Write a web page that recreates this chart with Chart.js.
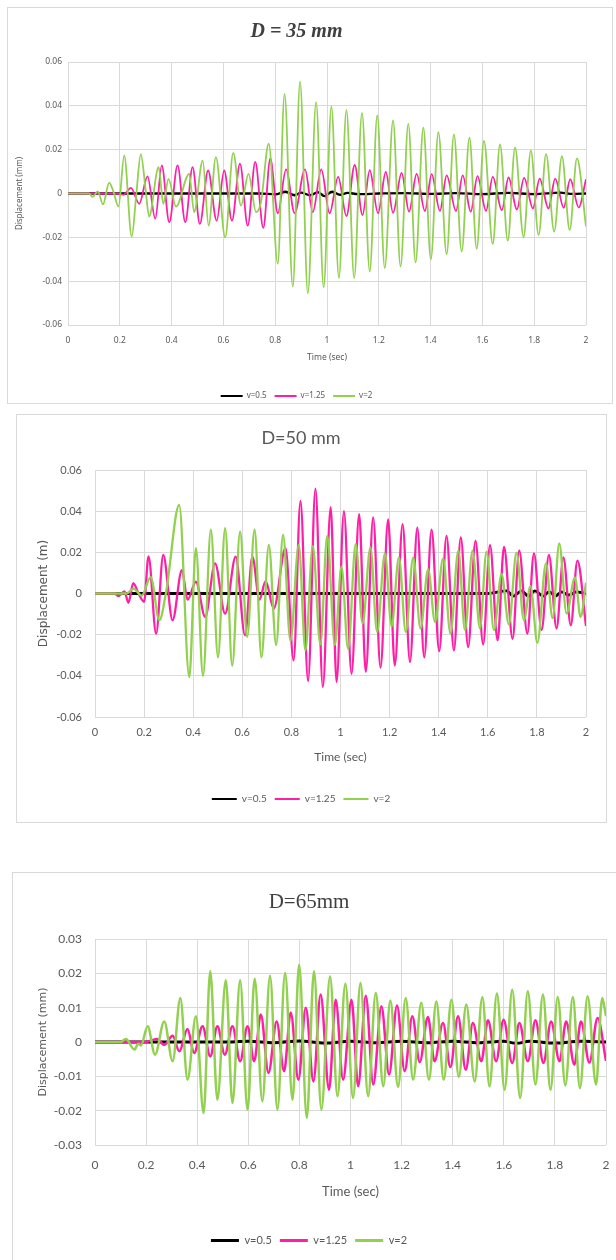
<!DOCTYPE html>
<html>
<head>
<meta charset="utf-8">
<script src="https://cdn.jsdelivr.net/npm/chart.js@4.4.1/dist/chart.umd.min.js"></script>
<style>
  html, body { margin: 0; padding: 0; background: #fff; width: 616px; height: 1260px; overflow: hidden; }
  .box { position: absolute; border: 1px solid #d9d9d9; box-sizing: border-box; background: #fff; }
  canvas { position: absolute; display: block; }
</style>
</head>
<body>
<div class="box" style="left:7px;top:7px;width:606px;height:397px"></div>
<div class="box" style="left:16px;top:414px;width:591px;height:409px"></div>
<div class="box" style="left:12px;top:872px;width:620px;height:400px"></div>
<canvas id="c35" width="605" height="403" style="left:7px;top:7px"></canvas>
<canvas id="c50" width="590" height="400" style="left:16px;top:414px"></canvas>
<canvas id="c65" width="612" height="384" style="left:12px;top:872px"></canvas>
<script>
// series labels and axis ticks
const seriesNames = ['v=0.5', 'v=1.25', 'v=2'];
const timeTicks = [0, 0.2, 0.4, 0.6, 0.8, 1, 1.2, 1.4, 1.6, 1.8, 2];

// D = 35 mm  -- [time (sec), displacement] read at the turning points
const d35_v05 = [[0,0],[0.74,0],[0.80,-0.0004],[0.84,0.0008],[0.875,-0.0008],[0.90,0.0004],[0.935,-0.0008],[0.965,0.0006],[0.99,-0.0012],[1.02,0.0008],[1.05,-0.0006],[1.08,0.0003],[1.12,-0.0003],[1.2,0],[1.3,0.0002],[1.4,-0.0002],[1.5,0.0002],[1.6,-0.0003],[1.7,0.0003],[1.8,-0.0003],[1.9,0.0004],[1.95,-0.0002],[2,0]];
const d35_v125 = [[0,0],[0.19,0],[0.215,-0.0005],[0.243,0.0026],[0.275,-0.0047],[0.307,0.0078],[0.337,-0.0115],[0.362,0.0128],[0.391,-0.0131],[0.423,0.0128],[0.453,-0.0131],[0.481,0.012],[0.509,-0.0139],[0.541,0.0105],[0.574,-0.0124],[0.603,0.0105],[0.633,-0.0124],[0.664,0.0136],[0.694,-0.0147],[0.723,0.0144],[0.754,-0.0157],[0.781,0.016],[0.810,-0.009],[0.842,0.011],[0.875,-0.009],[0.915,0.011],[0.945,-0.0085],[0.978,0.011],[1.010,-0.009],[1.043,0.0076],[1.075,-0.0103],[1.107,0.013],[1.137,-0.0098],[1.165,0.0106],[1.197,-0.009],[1.227,0.0098],[1.255,-0.0088],[1.288,0.0094],[1.317,-0.0083],[1.346,0.009],[1.378,-0.008],[1.404,0.0088],[1.436,-0.0079],[1.462,0.0083],[1.498,-0.008],[1.524,0.0083],[1.555,-0.0083],[1.581,0.0079],[1.614,-0.0079],[1.640,0.0076],[1.675,-0.0076],[1.701,0.0073],[1.733,-0.0073],[1.761,0.0071],[1.795,-0.0068],[1.821,0.0068],[1.855,-0.0068],[1.881,0.0068],[1.914,-0.0065],[1.939,0.0065],[1.972,-0.0064],[2.0,0.0065]];
const d35_v2 = [[0,0],[0.08,0],[0.096,-0.0015],[0.115,0.001],[0.135,-0.005],[0.159,0.005],[0.175,0.001],[0.195,-0.006],[0.217,0.0174],[0.246,-0.0197],[0.264,0],[0.281,0.018],[0.30,0.0014],[0.313,-0.0105],[0.35,0.012],[0.368,-0.0047],[0.388,0.0067],[0.417,-0.006],[0.468,0.009],[0.487,-0.0085],[0.52,0.015],[0.543,-0.0147],[0.571,0.0166],[0.607,-0.02],[0.638,0.0185],[0.668,-0.0055],[0.697,0.009],[0.726,-0.0085],[0.745,-0.004],[0.775,0.0227],[0.810,-0.032],[0.836,0.0455],[0.868,-0.0425],[0.896,0.051],[0.926,-0.0455],[0.958,0.0417],[0.987,-0.0427],[1.017,0.0397],[1.046,-0.0386],[1.075,0.0382],[1.105,-0.0386],[1.135,0.0368],[1.165,-0.0356],[1.194,0.0356],[1.223,-0.034],[1.255,0.0333],[1.284,-0.0333],[1.314,0.0318],[1.342,-0.0314],[1.372,0.030],[1.401,-0.030],[1.430,0.028],[1.462,-0.0277],[1.490,0.027],[1.520,-0.0265],[1.550,0.0255],[1.578,-0.0253],[1.606,0.024],[1.640,-0.023],[1.668,0.0224],[1.698,-0.0215],[1.726,0.021],[1.759,-0.020],[1.787,0.0197],[1.817,-0.019],[1.846,0.018],[1.877,-0.0174],[1.907,0.017],[1.937,-0.0167],[1.965,0.016],[2.0,-0.015]];

// D = 50 mm
const d50_v05 = [[0,0],[1.6,0],[1.677,0.0013],[1.704,-0.0013],[1.738,0.0013],[1.765,-0.0013],[1.792,0.0013],[1.826,-0.0013],[1.85,0.0009],[1.875,-0.0013],[1.90,0.0008],[1.93,-0.0008],[1.96,0.0008],[2,0]];
const d50_v125 = [[0,0],[0.08,0],[0.095,-0.0013],[0.12,0.001],[0.136,-0.0045],[0.156,0.005],[0.177,0],[0.20,-0.004],[0.218,0.018],[0.249,-0.0195],[0.278,0.0187],[0.316,-0.013],[0.354,0.0114],[0.377,-0.003],[0.411,0.0057],[0.449,-0.0114],[0.489,0.0146],[0.53,-0.0098],[0.573,0.0179],[0.611,-0.0203],[0.641,0.0179],[0.67,-0.003],[0.695,0.006],[0.728,-0.0073],[0.776,0.022],[0.809,-0.0325],[0.837,0.045],[0.868,-0.0425],[0.898,0.051],[0.928,-0.0454],[0.96,0.042],[0.984,-0.043],[1.014,0.040],[1.045,-0.039],[1.076,0.0385],[1.103,-0.038],[1.133,0.037],[1.163,-0.036],[1.194,0.036],[1.221,-0.035],[1.253,0.0337],[1.283,-0.0333],[1.313,0.032],[1.341,-0.031],[1.371,0.031],[1.402,-0.028],[1.432,0.028],[1.462,-0.0276],[1.490,0.0272],[1.520,-0.026],[1.550,0.0256],[1.581,-0.0247],[1.609,0.0235],[1.640,-0.0227],[1.666,0.0227],[1.701,-0.022],[1.728,0.021],[1.761,-0.0195],[1.788,0.0195],[1.819,-0.0178],[1.849,0.0187],[1.880,-0.017],[1.908,0.0175],[1.938,-0.0154],[1.965,0.016],[2.0,-0.0158]];
const d50_v2 = [[0,0],[0.13,0],[0.156,0.0024],[0.19,-0.001],[0.227,0.008],[0.262,-0.013],[0.29,0.001],[0.343,0.043],[0.384,-0.0406],[0.411,0.022],[0.44,-0.040],[0.472,0.031],[0.501,-0.031],[0.53,0.0317],[0.559,-0.035],[0.591,0.030],[0.62,-0.021],[0.65,0.031],[0.678,-0.031],[0.708,0.0236],[0.738,-0.025],[0.766,0.0285],[0.796,-0.023],[0.83,0.0236],[0.857,-0.0276],[0.887,0.023],[0.918,-0.0247],[0.946,0.028],[0.977,-0.025],[1.004,0.013],[1.031,-0.027],[1.062,0.024],[1.090,-0.0146],[1.122,0.0224],[1.149,-0.0187],[1.181,0.0195],[1.208,-0.016],[1.238,0.0175],[1.266,-0.0187],[1.296,0.0175],[1.326,-0.017],[1.357,0.0117],[1.385,-0.0138],[1.418,0.017],[1.448,-0.0195],[1.480,0.0208],[1.507,-0.0178],[1.538,0.0208],[1.568,-0.017],[1.595,0.0203],[1.625,-0.0178],[1.656,0.0094],[1.686,-0.015],[1.717,0.0198],[1.747,-0.013],[1.774,0.0036],[1.802,-0.024],[1.837,0.0146],[1.864,-0.012],[1.891,0.0243],[1.921,-0.0097],[1.955,0.0078],[1.978,-0.0114],[2.0,0.0052]];

// D = 65 mm
const d65_v05 = [[0,0],[0.5,0],[0.6,0.0002],[0.7,-0.0002],[0.8,0.0003],[0.9,-0.0003],[1.0,0.0002],[1.1,-0.0002],[1.2,0.0002],[1.3,-0.0002],[1.4,0.0002],[1.5,-0.0002],[1.6,0.0002],[1.65,-0.0004],[1.7,0.0002],[1.8,-0.0003],[1.9,0.0002],[2,0]];
const d65_v125 = [[0,0],[0.2,0],[0.242,0.0009],[0.271,-0.0008],[0.304,0.0018],[0.330,-0.0027],[0.362,0.0038],[0.388,-0.0032],[0.421,0.0046],[0.451,-0.0042],[0.479,0.0046],[0.508,-0.0037],[0.538,0.0046],[0.568,-0.0056],[0.597,0.0046],[0.623,-0.0056],[0.649,0.008],[0.679,-0.009],[0.711,0.006],[0.740,-0.0085],[0.766,0.0086],[0.796,-0.011],[0.825,0.010],[0.855,-0.0115],[0.883,0.0138],[0.916,-0.0139],[0.942,0.0123],[0.971,-0.011],[1.004,0.0123],[1.03,-0.0129],[1.06,0.0135],[1.089,-0.0124],[1.121,0.0104],[1.151,-0.0095],[1.182,0.0106],[1.212,-0.0085],[1.242,0.0075],[1.271,-0.0059],[1.303,0.0073],[1.329,-0.0056],[1.362,0.0055],[1.391,-0.0073],[1.421,0.0075],[1.451,-0.0081],[1.479,0.0055],[1.512,-0.0056],[1.538,0.0063],[1.570,-0.0056],[1.599,0.0065],[1.633,-0.0061],[1.661,0.0055],[1.694,-0.0056],[1.724,0.0063],[1.755,-0.0061],[1.785,0.006],[1.818,-0.0056],[1.844,0.006],[1.876,-0.0066],[1.902,0.006],[1.935,-0.006],[1.967,0.007],[2.0,-0.0055]];
const d65_v2 = [[0,0],[0.1,0],[0.121,0.0009],[0.154,-0.0022],[0.17,-0.0005],[0.18,-0.001],[0.206,0.0046],[0.235,-0.0037],[0.271,0.006],[0.304,-0.0056],[0.334,0.0128],[0.362,-0.011],[0.395,0.0075],[0.425,-0.0207],[0.451,0.0206],[0.479,-0.0168],[0.512,0.018],[0.538,-0.0178],[0.568,0.018],[0.597,-0.0197],[0.625,0.0184],[0.655,-0.0173],[0.685,0.0193],[0.714,-0.0197],[0.744,0.0201],[0.773,-0.0168],[0.799,0.0225],[0.829,-0.0221],[0.857,0.0206],[0.886,-0.0197],[0.920,0.0191],[0.949,-0.0158],[0.98,0.017],[1.010,-0.0163],[1.039,0.0172],[1.069,-0.0158],[1.099,0.0143],[1.128,-0.0129],[1.156,0.0121],[1.186,-0.0131],[1.216,0.0128],[1.245,-0.011],[1.277,0.0114],[1.307,-0.011],[1.336,0.0118],[1.365,-0.011],[1.395,0.0123],[1.424,-0.0102],[1.453,0.0109],[1.486,-0.0115],[1.516,0.0131],[1.544,-0.0129],[1.573,0.0141],[1.603,-0.0139],[1.633,0.0152],[1.664,-0.0163],[1.694,0.0148],[1.724,-0.0124],[1.753,0.0138],[1.783,-0.0139],[1.811,0.0131],[1.841,-0.0127],[1.870,0.0131],[1.898,-0.0134],[1.928,0.0133],[1.961,-0.0124],[1.985,0.0128],[2.0,0.0075]];

const lineColors = ['#000000', '#FF1FA5', '#92D050'];
const textGrey = '#595959';

const toPoints = pairs => pairs.map(([x, y]) => ({ x, y }));

function renderPanel(canvasId, s) {
  const datasets = s.series.map((pairs, i) => ({
    label: seriesNames[i],
    data: toPoints(pairs),
    borderColor: lineColors[i],
    backgroundColor: lineColors[i],
    borderWidth: s.lineWidth + (i === 0 ? 0.5 : 0),
    pointRadius: 0,
    cubicInterpolationMode: 'monotone',
    order: 3 - i // green drawn on top, black underneath
  }));

  new Chart(document.getElementById(canvasId), {
    type: 'line',
    data: { datasets },
    options: {
      responsive: false,
      animation: false,
      devicePixelRatio: 1,
      layout: { padding: { left: 0, right: s.padRight, top: 0, bottom: 0 } },
      plugins: {
        tooltip: { enabled: false },
        title: {
          display: true,
          text: s.title,
          color: s.titleColor,
          font: s.titleFont,
          padding: { top: s.titlePad[0], bottom: s.titlePad[1] }
        },
        legend: {
          position: 'bottom',
          labels: {
            color: textGrey,
            font: { family: s.family, size: s.legendSize },
            boxWidth: s.legendBox,
            boxHeight: s.legendLine,
            padding: 8,
            sort: (a, b) => a.datasetIndex - b.datasetIndex,
            generateLabels: chart => Chart.defaults.plugins.legend.labels.generateLabels(chart)
              .map(item => Object.assign(item, { lineWidth: 0, fillStyle: item.strokeStyle }))
          }
        }
      },
      scales: {
        x: {
          type: 'linear',
          min: timeTicks[0],
          max: timeTicks[timeTicks.length - 1],
          afterBuildTicks: scale => { scale.ticks = timeTicks.map(v => ({ value: v })); },
          afterFit: scale => { scale.height = s.xHeight; },
          grid: { color: '#d9d9d9', drawTicks: false },
          border: { display: false },
          ticks: {
            color: textGrey,
            padding: s.xTickPad,
            maxRotation: 0,
            font: { family: s.family, size: s.tickSize },
            callback: v => String(+v.toFixed(1))
          },
          title: {
            display: true,
            text: 'Time (sec)',
            color: textGrey,
            font: { family: s.family, size: s.axisTitleSize },
            padding: { top: 0, bottom: s.xTitlePad }
          }
        },
        y: {
          min: s.yTicks[0],
          max: s.yTicks[s.yTicks.length - 1],
          afterBuildTicks: scale => { scale.ticks = s.yTicks.map(v => ({ value: v })); },
          afterFit: scale => { scale.width = s.yWidth; },
          grid: { color: '#d9d9d9', drawTicks: false },
          border: { display: false },
          ticks: {
            color: textGrey,
            padding: s.yTickPad,
            font: { family: s.family, size: s.tickSize },
            callback: v => (Math.abs(v) < 1e-9 ? '0' : v.toFixed(2))
          },
          title: {
            display: true,
            text: s.yTitle,
            color: textGrey,
            font: { family: s.yTitleFamily, size: s.yTitleSize },
            padding: { top: s.yTitlePad, bottom: 0 }
          }
        }
      }
    }
  });
}

renderPanel('c35', {
  series: [d35_v05, d35_v125, d35_v2],
  title: 'D = 35 mm',
  titleColor: '#404040',
  titleFont: { family: "'Liberation Serif', serif", size: 20, style: 'italic', weight: 'bold', lineHeight: 1 },
  titlePad: [15, 20],
  family: "'Noto Sans', sans-serif",
  tickSize: 8.5, axisTitleSize: 8.5, legendSize: 8, legendBox: 22, legendLine: 2,
  lineWidth: 1.8,
  yTicks: [-0.06, -0.04, -0.02, 0, 0.02, 0.04, 0.06],
  yTitle: 'Displacement (mm)', yTitleFamily: "'Noto Sans', sans-serif", yTitleSize: 8,
  padRight: 26, yWidth: 61, yTickPad: 6, yTitlePad: 8,
  xHeight: 59, xTickPad: 10, xTitlePad: 21
});

renderPanel('c50', {
  series: [d50_v05, d50_v125, d50_v2],
  title: 'D=50 mm',
  titleColor: textGrey,
  titleFont: { family: "Lato, sans-serif", size: 18, weight: 'normal', lineHeight: 1 },
  titlePad: [15, 23],
  family: "Lato, sans-serif",
  tickSize: 11, axisTitleSize: 12, legendSize: 10, legendBox: 25, legendLine: 2,
  lineWidth: 2.3,
  yTicks: [-0.06, -0.04, -0.02, 0, 0.02, 0.04, 0.06],
  yTitle: 'Displacement (m)', yTitleFamily: "'DejaVu Sans', sans-serif", yTitleSize: 12,
  padRight: 20, yWidth: 79, yTickPad: 13, yTitlePad: 21,
  xHeight: 69, xTickPad: 9, xTitlePad: 22
});

renderPanel('c65', {
  series: [d65_v05, d65_v125, d65_v2],
  title: 'D=65mm',
  titleColor: '#404040',
  titleFont: { family: "'Liberation Serif', serif", size: 21, weight: 'normal', lineHeight: 1 },
  titlePad: [20, 26],
  family: "Lato, sans-serif",
  tickSize: 12, axisTitleSize: 13, legendSize: 11, legendBox: 28, legendLine: 3,
  lineWidth: 2.5,
  yTicks: [-0.03, -0.02, -0.01, 0, 0.01, 0.02, 0.03],
  yTitle: 'Displacement (mm)', yTitleFamily: "'DejaVu Sans', sans-serif", yTitleSize: 11,
  padRight: 18, yWidth: 83, yTickPad: 13, yTitlePad: 25,
  xHeight: 82, xTickPad: 13, xTitlePad: 27
});
</script>
</body>
</html>
